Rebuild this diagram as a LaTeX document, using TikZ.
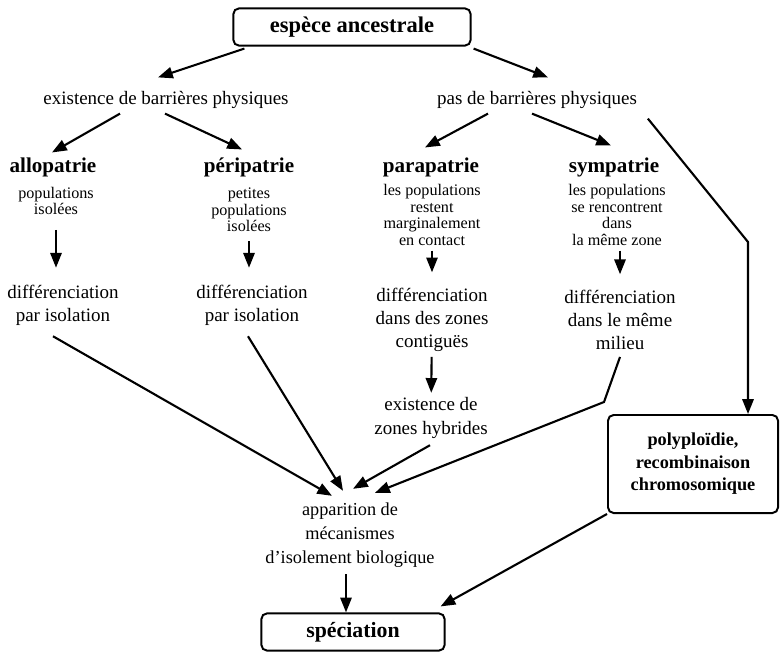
\documentclass[tikz,border=0pt]{standalone}
\usepackage{fontspec}
\setmainfont{Liberation Serif}
\usetikzlibrary{arrows.meta,calc}
\tikzset{
  txt/.style={font=\fontsize{13.5}{16.5}\selectfont, align=center},
  sml/.style={font=\fontsize{11.5}{11.8}\selectfont, align=center},
  ttl/.style={font=\fontsize{15}{18}\selectfont\bfseries},
  boite/.style={draw, rounded corners=4pt, line width=1.4pt, align=center},
  fl/.style={-{Triangle[length=10.5pt,width=8pt]}, line width=1.5pt},
}
\begin{document}
\begin{tikzpicture}[x=0.025cm,y=-0.025cm]
\useasboundingbox (0,0) rectangle (780,658);
% boites
\node[boite, minimum width=5.93cm, minimum height=0.93cm, font=\fontsize{16}{19}\selectfont\bfseries] (anc) at (352,27) {espèce ancestrale};
\node[boite, minimum width=4.25cm, minimum height=2.45cm, font=\fontsize{13}{16}\selectfont\bfseries] (poly) at (693,464) {polyploïdie,\\recombinaison\\chromosomique};
\node[boite, minimum width=4.58cm, minimum height=0.93cm, font=\fontsize{15.5}{18}\selectfont\bfseries] (spec) at (353,632) {spéciation};
% barrieres
\node[txt] (exi) at (166,100) {existence de barrières physiques};
\node[txt] (pas) at (537,100) {pas de barrières physiques};
% modes
\node[ttl] (allo) at (53,167) {allopatrie};
\node[sml] (allod) at (56,201) {populations\\isolées};
\node[ttl] (peri) at (249,167) {péripatrie};
\node[sml] (perid) at (249,210) {petites\\populations\\isolées};
\node[ttl] (para) at (431,167) {parapatrie};
\node[sml] (parad) at (432,215) {les populations\\restent\\marginalement\\en contact};
\node[ttl] (sym) at (614,167) {sympatrie};
\node[sml] (symd) at (617,215) {les populations\\se rencontrent\\dans\\la même zone};
% differenciation
\node[txt] (alldif) at (63,305) {différenciation\\par isolation};
\node[txt] (peridif) at (252,305) {différenciation\\par isolation};
\node[txt] (paradif) at (432,320) {différenciation\\dans des zones\\contiguës};
\node[txt] (symdif) at (620,320) {différenciation\\dans le même\\milieu};
\node[txt] (hyb) at (431,418) {existence de\\zones hybrides};
\node[txt, font=\fontsize{13}{17}\selectfont] (app) at (350,535) {apparition de\\mécanismes\\d'isolement biologique};
\coordinate (coude1) at (748,242);
\coordinate (coude2) at (604,402);
% fleches
\draw[fl] ($(anc.south west)+(12,2)$) -- ($(exi.north)+(-8,-9)$);
\draw[fl] ($(anc.south east)+(2,2)$) -- ($(pas.north)+(11,-9)$);
\draw[fl] ($(exi.south)+(-46,0)$) -- ($(allo.north)+(-1,0)$);
\draw[fl] ($(exi.south)+(-1,0)$) -- ($(peri.north)+(-7,-3)$);
\draw[fl] ($(pas.south)+(-49,0)$) -- ($(para.north)+(-6,-5)$);
\draw[fl] ($(pas.south)+(-5,0)$) -- ($(sym.north)+(-3,-7)$);
\draw[fl] ($(pas.south east)+(6,5)$) -- (coude1) -- (coude1 |- poly.north);
\draw[fl, shorten <=0.25cm, shorten >=0.3cm] (allod.south) -- (allod.south |- alldif.north);
\draw[fl, shorten <=0.1cm, shorten >=0.3cm] (perid.south) -- (perid.south |- peridif.north);
\draw[fl, shorten >=0.27cm] (parad.south) -- (parad.south |- paradif.north);
\draw[fl, shorten >=0.27cm] ($(symd.south)+(3,0)$) -- ($(symd.south |- symdif.north)+(3,0)$);
\draw[fl] (paradif) -- (hyb);
\draw[fl] ($(alldif.south)+(-10,6)$) -- ($(app.north)+(-18,-2)$);
\draw[fl] ($(peridif.south)+(-4,6)$) -- ($(app.north)+(-7,-7)$);
\draw[fl] ($(hyb.south)+(-1,2)$) -- ($(app.north)+(3,-9)$);
\draw[fl] ($(symdif.south)+(0,2)$) -- (coude2) -- ($(app.north)+(25,-5)$);
\draw[fl] ($(app.south)+(-4,2)$) -- ($(spec.north)+(-7,0)$);
\draw[fl] (poly.south west) -- ($(spec.north east)+(-5,-6)$);
\end{tikzpicture}
\end{document}
